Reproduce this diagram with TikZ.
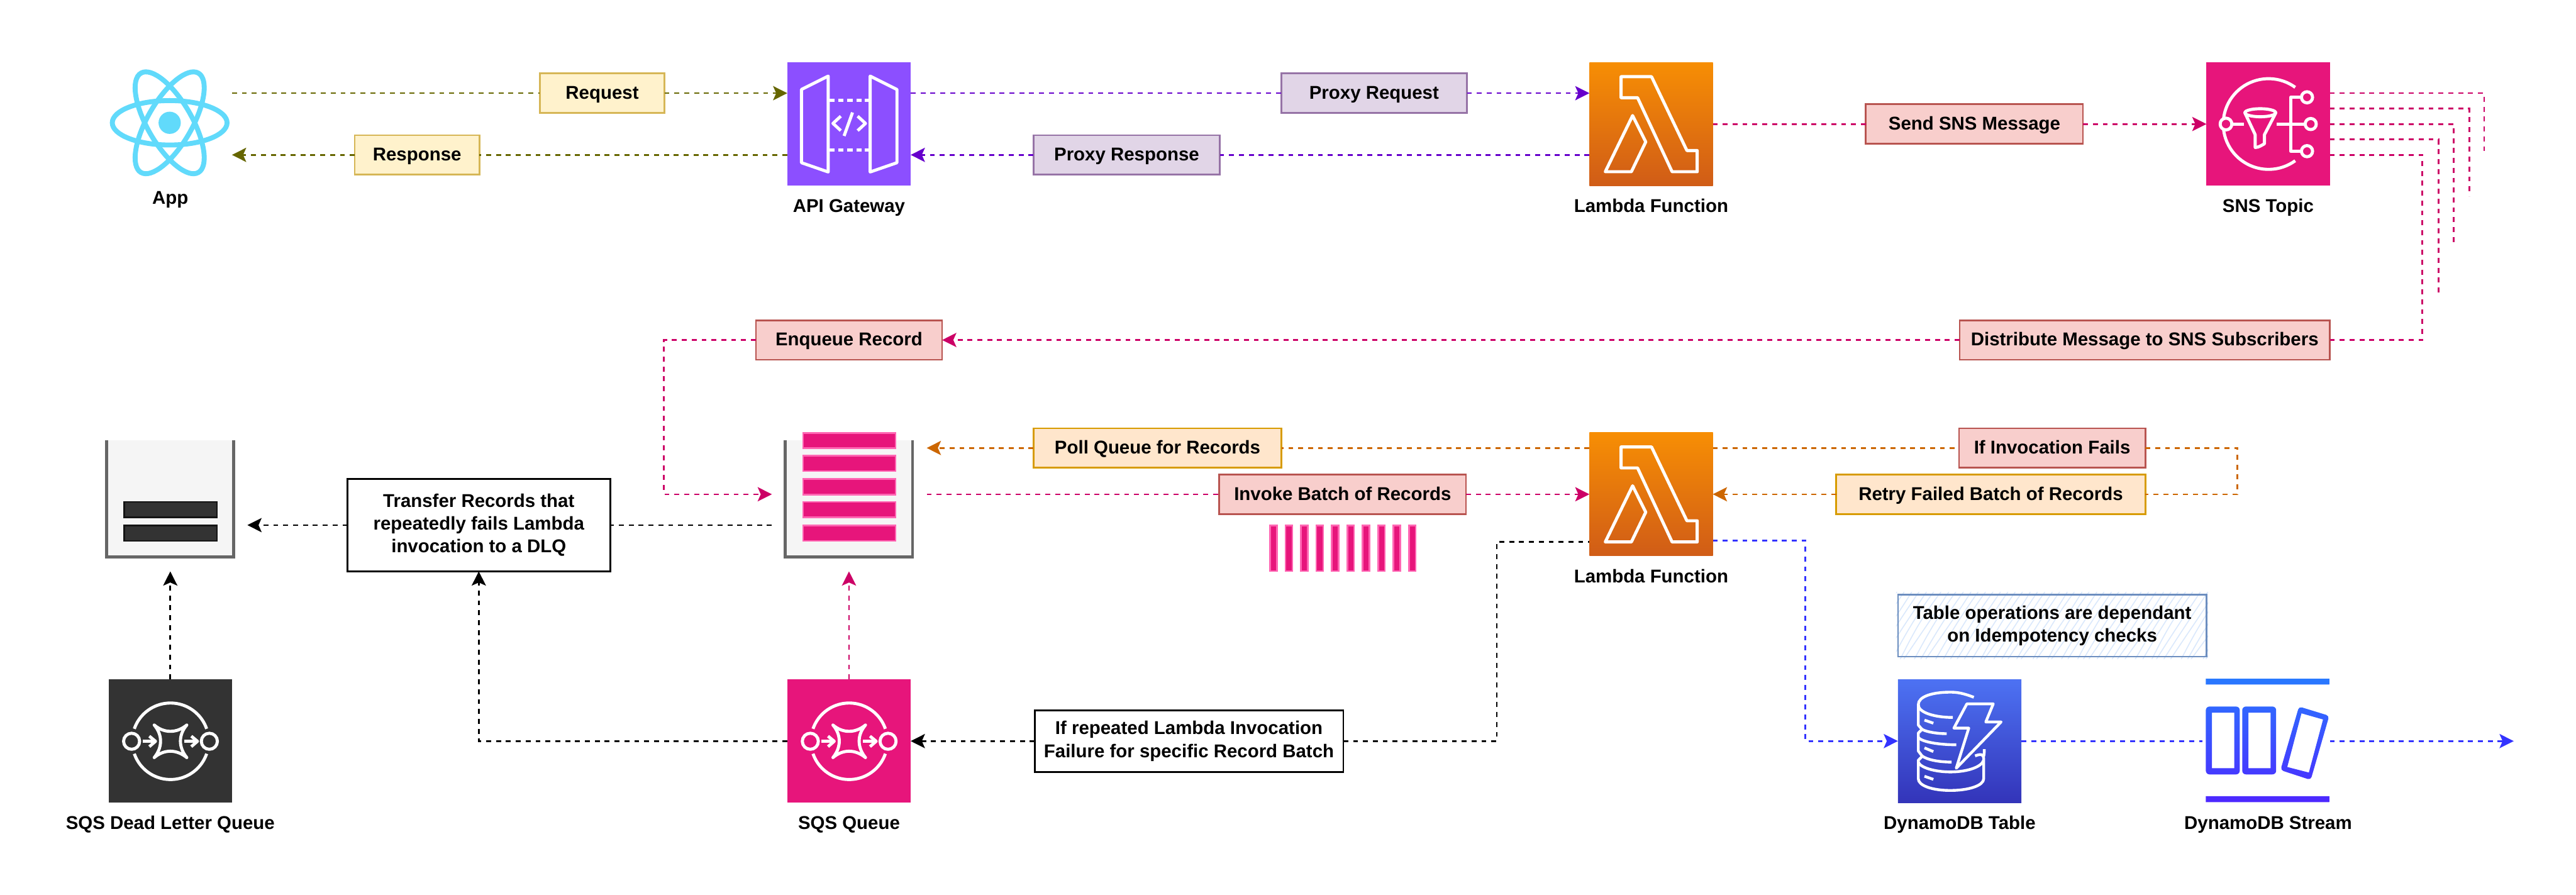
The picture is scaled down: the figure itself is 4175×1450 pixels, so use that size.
\documentclass[tikz,border=0pt]{standalone}
\usepackage{fontspec}
\setmainfont{Liberation Sans}
\usetikzlibrary{arrows.meta,calc}
\definecolor{cOlive}{HTML}{666600}
\definecolor{cPurp}{HTML}{6600CC}
\definecolor{cMag}{HTML}{CC0066}
\definecolor{cOrg}{HTML}{CC6600}
\definecolor{cBlue}{HTML}{3333FF}
\definecolor{cPink}{HTML}{E7157B}
\definecolor{cPinkL}{HTML}{FF66B3}
\definecolor{cApi}{HTML}{8C4FFF}
\definecolor{cReact}{HTML}{61DAFB}
\tikzset{
  every node/.style={font=\bfseries\fontsize{30}{37}\selectfont,inner sep=0pt,outer sep=0pt},
  lbl/.style={anchor=base,text=black},
  box/.style={draw,line width=2.7pt,minimum width=#1,minimum height=64pt,text height=25pt,text depth=6pt,align=center},
  yellowbox/.style={box=#1,fill=yellow!0!white,fill={rgb,255:red,255;green,242;blue,204},draw={rgb,255:red,214;green,182;blue,86}},
  purplebox/.style={box=#1,fill={rgb,255:red,225;green,213;blue,231},draw={rgb,255:red,150;green,115;blue,166}},
  redbox/.style={box=#1,fill={rgb,255:red,248;green,206;blue,204},draw={rgb,255:red,184;green,84;blue,80}},
  orangebox/.style={box=#1,fill={rgb,255:red,255;green,230;blue,204},draw={rgb,255:red,215;green,155;blue,0}},
  whitebox/.style={draw=black,fill=white,line width=2.7pt,align=center},
  icon/.style={minimum width=200pt,minimum height=200pt},
  bucketbg/.style={minimum width=206pt,minimum height=190pt,fill={rgb,255:red,245;green,245;blue,245}},
  conn/.style={line width=2.7pt,dash pattern=on 8pt off 8pt,#1},
  tip/.style={-{Stealth[length=23pt,width=23pt,inset=5pt]}},
  glyph/.style={draw=white,line width=5pt,line join=round,line cap=butt},
  lambdaicon/.pic={
    \draw[glyph,line width=5pt] (51.3,23.3) -- (100.7,23.3) -- (158,143) -- (174.7,143) -- (174.7,177.3) -- (134,177.3) -- (78,57.3) -- (51.3,57.3) -- cycle;
    \draw[glyph] (70,86.3) -- (91.3,129) -- (68,177.3) -- (25.7,177.3) -- cycle;
  },
  apiicon/.pic={
    \draw[glyph] (23,44) -- (66.3,22.3) -- (66.3,177.7) -- (23,162.7) -- cycle;
    \draw[glyph] (134.3,22.3) -- (177.7,44) -- (177.7,162.7) -- (134.3,177.7) -- cycle;
    \foreach \yy in {61.3,142}{
      \foreach \xa/\xb in {68/77,83/91,97/106,112/120,126/133}{
        \draw[draw=white,line width=5.5pt] (\xa,\yy) -- (\xb,\yy);
      }
    }
    \draw[glyph] (86.7,87.3) -- (74,99) -- (86.7,110.7);
    \draw[glyph] (114,87.3) -- (126.7,99) -- (114,110.7);
    \draw[glyph] (105.7,81.3) -- (92,119.3);
  },
  snsicon/.pic={
    \draw[glyph] plot[domain=54:306,samples=60] ({100.7+73.5*cos(\x)},{100-73.5*sin(\x)});
    \draw[glyph] (42,100) -- (60.7,100);
    \draw[glyph,fill=cPink] (31.7,100) circle[radius=9.5pt];
    \draw[glyph] (87.3,81.7) ellipse[x radius=25pt,y radius=6.5pt];
    \draw[glyph] (63,83.3) -- (79,117.3) -- (79,138) .. controls (85,138) and (90,134) .. (94,132) -- (94,117.3) -- (111.7,83.3);
    \draw[glyph] (113.3,100) -- (160,100);
    \draw[glyph] (154,56.7) -- (136.7,56.7) -- (136.7,144) -- (154,144);
    \draw[glyph] (163,56.7) circle[radius=9pt];
    \draw[glyph] (169,100) circle[radius=9pt];
    \draw[glyph] (163,144) circle[radius=9pt];
  },
  sqsicon/.pic={
    \draw[glyph] plot[domain=161:19,samples=40] ({100.3+62*cos(\x)},{100.3-62*sin(\x)});
    \draw[glyph] plot[domain=199:341,samples=40] ({100.3+62*cos(\x)},{100.3-62*sin(\x)});
    \draw[glyph] (37.3,100.3) circle[radius=13pt];
    \draw[glyph] (163.3,100.3) circle[radius=13pt];
    \draw[glyph,line cap=round] (74,74) .. controls (90,87.6) and (110,87.6) .. (126.7,74) .. controls (113,90) and (113,110) .. (126.7,126.7) .. controls (110,113) and (90,113) .. (74,126.7) .. controls (87.6,110) and (87.6,90) .. (74,74) -- cycle;
    \draw[glyph] (55.3,100.3) -- (75,100.3);
    \draw[glyph] (66,92) -- (76,100.3) -- (66,109);
    \draw[glyph] (122.7,100.3) -- (143,100.3);
    \draw[glyph] (134,92) -- (144,100.3) -- (134,109);
  },
  ddbicon/.pic={
    \begin{scope}[draw=white,line width=4.5pt,line join=round]
    \draw (123,29) .. controls (105,22) and (95,20.7) .. (85,20.7) .. controls (55,20.7) and (33,28) .. (33,41) .. controls (33,54) and (60,61.7) .. (89,61.7);
    \draw (33,41) -- (33,74) -- (39,81);
    \draw (38,80) .. controls (42,84) and (60,88) .. (79,88);
    \draw (39,81) -- (33,87) -- (33,116) -- (39,124);
    \draw (33,94) .. controls (38,101) and (65,106) .. (94.5,106);
    \draw (39,124) .. controls (47,130) and (65,134) .. (87,134);
    \draw (39,125) -- (33,131) -- (33,161) .. controls (33,172) and (55,180) .. (85,180) .. controls (115,180) and (139,172) .. (139,161) -- (139,128) .. controls (139,122) and (135,120) .. (125,124);
    \draw (33,134) .. controls (36,143) and (60,150) .. (85,150) .. controls (110,150) and (135,143) .. (139,131);
    \draw (139,125) .. controls (140,120) and (140,116) .. (140,113);
    \draw (43,66) -- (57.4,71);
    \draw (43,111) -- (57.4,117);
    \draw (43,157) -- (57.4,162);
    \draw (111.7,39.7) -- (154.5,39.7) -- (142.4,69) -- (167.2,69) -- (94.5,144) -- (114.8,79) -- (90.7,79) -- cycle;
    \end{scope}
  },
}
\begin{document}
\begin{tikzpicture}[x=1pt,y=-1pt]
\useasboundingbox (0,0) rectangle (4175,1450);
\fill[white] (0,0) rectangle (4175,1450);

%% icons
\node[icon] (app) at (276,201) {};
\begin{scope}[draw=cReact,line width=8pt]
  \draw (275,199) ellipse[x radius=93pt,y radius=36pt];
  \draw[rotate around={60:(275,199)}] (275,199) ellipse[x radius=93pt,y radius=36pt];
  \draw[rotate around={-60:(275,199)}] (275,199) ellipse[x radius=93pt,y radius=36pt];
  \fill[cReact] (275,199) circle[radius=18pt];
\end{scope}
\node[lbl] (applbl) at (276,331) {App};

\node[icon,fill=cApi] (api) at (1376,201) {};
\pic at (1276,101) {apiicon};
\node[lbl] (apilbl) at (1376,344) {API Gateway};

\node[icon,top color={rgb,255:red,247;green,142;blue,4},bottom color={rgb,255:red,208;green,92;blue,23}] (fn1) at (2676,201) {};
\pic at (2576,101) {lambdaicon};
\node[lbl] (fn1lbl) at (2676,344) {Lambda Function};

\node[icon,fill=cPink] (sns) at (3676,201) {};
\pic at (3576,101) {snsicon};
\node[lbl] (snslbl) at (3676,344) {SNS Topic};

\node[icon,top color={rgb,255:red,247;green,142;blue,4},bottom color={rgb,255:red,208;green,92;blue,23}] (fn2) at (2676,801) {};
\pic at (2576,701) {lambdaicon};
\node[lbl] (fn2lbl) at (2676,944) {Lambda Function};

\node[icon,fill=cPink] (sqs) at (1376,1201) {};
\pic at (1276,1101) {sqsicon};
\node[lbl] (sqslbl) at (1376,1344) {SQS Queue};

\node[icon,fill={rgb,255:red,51;green,51;blue,51}] (dlq) at (276,1201) {};
\pic at (176,1101) {sqsicon};
\node[lbl] (dlqlbl) at (276,1344) {SQS Dead Letter Queue};

\node[icon,top color={rgb,255:red,77;green,114;blue,243},bottom color={rgb,255:red,51;green,52;blue,185}] (ddb) at (3176,1201) {};
\pic at (3076,1101) {ddbicon};
\node[lbl] (ddblbl) at (3176,1344) {DynamoDB Table};

\node[icon] (stream) at (3676,1201) {};
\shade[even odd rule,top color={rgb,255:red,41;green,121;blue,255},bottom color={rgb,255:red,77;green,39;blue,255}]
  (3575,1100) rectangle (3775,1109.3)
  (3575,1290.3) rectangle (3775,1300)
  [rounded corners=6pt] (3575,1145) rectangle (3630,1255)
  [sharp corners] (3585,1155) rectangle (3621,1245)
  [rounded corners=6pt] (3634,1145) rectangle (3689,1255)
  [sharp corners] (3644,1155) rectangle (3680,1245)
  [rounded corners=5pt] (3726,1145) -- (3775,1160) -- (3745,1264) -- (3696,1248) -- cycle
  [sharp corners] (3730,1156) -- (3765,1166) -- (3742,1252) -- (3707,1243) -- cycle;
\node[lbl] (streamlbl) at (3676,1344) {DynamoDB Stream};

%% buckets
\node[bucketbg] (sqsb) at (1376,808) {};
\draw[line width=5pt,draw={rgb,255:red,102;green,102;blue,102}] (sqsb.north west) -- (sqsb.south west) -- (sqsb.south east) -- (sqsb.north east);
\foreach \yy in {700,737,775,812,850}{
  \draw[fill=cPink,draw=cPinkL,line width=2.7pt] (1301.5,\yy+1.5) rectangle (1451.5,\yy+26.5);
}
\node[bucketbg] (dlqb) at (276,808) {};
\draw[line width=5pt,draw={rgb,255:red,102;green,102;blue,102}] (dlqb.north west) -- (dlqb.south west) -- (dlqb.south east) -- (dlqb.north east);
\foreach \yy in {812,850}{
  \draw[fill={rgb,255:red,51;green,51;blue,51},draw={rgb,255:red,20;green,20;blue,20},line width=2.7pt] (201.5,\yy+1.5) rectangle (351.5,\yy+26.5);
}
%% batch bars
\foreach \i in {0,...,9}{
  \draw[fill=cPink,draw=cPinkL,line width=2.7pt] (2058.5+25*\i,851.5) rectangle (2069.5+25*\i,925.5);
}

%% boxes
\node[yellowbox=202pt] (req) at (976,151) {Request};
\node[yellowbox=202pt] (resp) at (676,251) {Response};
\node[purplebox=301pt] (preq) at (2227,151) {Proxy Request};
\node[purplebox=302pt] (presp) at (1826,251) {Proxy Response};
\node[redbox=352pt] (send) at (3200,201) {Send SNS Message};
\node[redbox=600pt] (dist) at (3476,551) {Distribute Message to SNS Subscribers};
\node[redbox=302pt] (enq) at (1376,551) {Enqueue Record};
\node[orangebox=402pt] (poll) at (1876,726) {Poll Queue for Records};
\node[redbox=400pt] (invoke) at (2176,801) {Invoke Batch of Records};
\node[redbox=302pt] (iff) at (3326,726) {If Invocation Fails};
\node[orangebox=501pt] (retry) at (3226.5,801) {Retry Failed Batch of Records};
\node[whitebox,minimum width=426pt,minimum height=150pt] (xfer) at (776,851) {Transfer Records that\\repeatedly fails Lambda\\invocation to a DLQ};
\node[whitebox,minimum width=500pt,minimum height=100pt] (rep) at (1927,1201) {If repeated Lambda Invocation\\Failure for specific Record Batch};

%% note with hachure
\node[minimum width=500pt,minimum height=100pt] (note) at (3326,1014) {};
\begin{scope}
  \clip ([shift={(-3pt,-4pt)}]note.south west) rectangle ([shift={(3pt,4pt)}]note.north east);
  \pgfmathsetseed{7}
  \foreach \xx in {2990,3002,...,3590}{
    \pgfmathsetmacro{\jit}{rand*5}
    \draw[line width=1.6pt,draw={rgb,255:red,218;green,232;blue,252}] (\xx+\jit,1070) .. controls (\xx+25,1030) and (\xx+45-\jit,1000) .. (\xx+75,955);
  }
\end{scope}
\node[draw={rgb,255:red,108;green,142;blue,191},line width=2.7pt,minimum width=500pt,minimum height=100pt,align=center] (notetxt) at (note) {Table operations are dependant\\on Idempotency checks};

%% free ends
\coordinate (e1) at (4026,251);
\coordinate (e2) at (4002,318);
\coordinate (e3) at (3977,398);
\coordinate (e4) at (3952,477);
\coordinate (t1) at (3926,551);
\coordinate (t2) at (1076,801);
\coordinate (inB) at (1251,801);
\coordinate (xferS) at (1251,851);
\coordinate (xferT) at (401,851);
\coordinate (t3) at (2426,878);
\coordinate (t4) at (2926,1201);
\coordinate (t5) at (3626,801);
\coordinate (pollT) at (1502,726);
\coordinate (invS) at (1502,801);
\coordinate (outT) at (4074,1201);

%% connectors
\draw[conn=cOlive] (app.east |- req.west) -- (req.west);
\draw[conn=cOlive,tip] (req.east) -- (api.west |- req.east);
\draw[conn=cOlive] (api.west |- resp.east) -- (resp.east);
\draw[conn=cOlive,tip] (resp.west) -- (app.east |- resp.west);
\draw[conn=cPurp] (api.east |- preq.west) -- (preq.west);
\draw[conn=cPurp,tip] (preq.east) -- (fn1.west |- preq.east);
\draw[conn=cPurp] (fn1.west |- presp.east) -- (presp.east);
\draw[conn=cPurp,tip] (presp.west) -- (api.east |- presp.west);
\draw[conn=cMag] (fn1.east) -- (send.west);
\draw[conn=cMag,tip] (send.east) -- (sns.west);
\draw[conn=cMag] ([yshift=50pt]sns.east) -| (e1);
\draw[conn=cMag] ([yshift=25pt]sns.east) -| (e2);
\draw[conn=cMag] (sns.east) -| (e3);
\draw[conn=cMag] ([yshift=-25pt]sns.east) -| (e4);
\draw[conn=cMag] ([yshift=-50pt]sns.east) -| (t1) -- (dist.east);
\draw[conn=cMag,tip] (dist.west) -- (enq.east);
\draw[conn=cMag,tip] (enq.west) -| (t2) -- (inB);
\draw[conn=cMag] (invS) -- (invoke.west);
\draw[conn=cMag,tip] (invoke.east) -- (fn2.west);
\draw[conn=cOrg] ([yshift=75pt]fn2.west) -- (poll.east);
\draw[conn=cOrg,tip] (poll.west) -- (pollT);
\draw[conn=cOrg] ([yshift=75pt]fn2.east) -- (iff.west);
\draw[conn=cOrg] (iff.east) -| (t5) -- (retry.east);
\draw[conn=cOrg,tip] (retry.west) -- (fn2.east);
\draw[conn=black] (xferS) -- (xfer.east);
\draw[conn=black,tip] (xfer.west) -- (xferT);
\draw[conn=black,tip] (dlq.north) -- ([yshift=-23pt]dlqb.south);
\draw[conn=cMag,tip] (sqs.north) -- ([yshift=-23pt]sqsb.south);
\draw[conn=black,tip] (sqs.west) -| (xfer.south);
\draw[conn=black,tip] (rep.west) -- (sqs.east);
\draw[conn=black] (rep.east) -| (t3) -- (t3 -| fn2.west);
\draw[conn=cBlue,tip] ([yshift=-75pt]fn2.east) -| (t4) -- (ddb.west);
\draw[conn=cBlue] (ddb.east) -- ([xshift=-6pt]stream.west);
\draw[conn=cBlue,tip] (stream.east) -- (outT);
\end{tikzpicture}
\end{document}
